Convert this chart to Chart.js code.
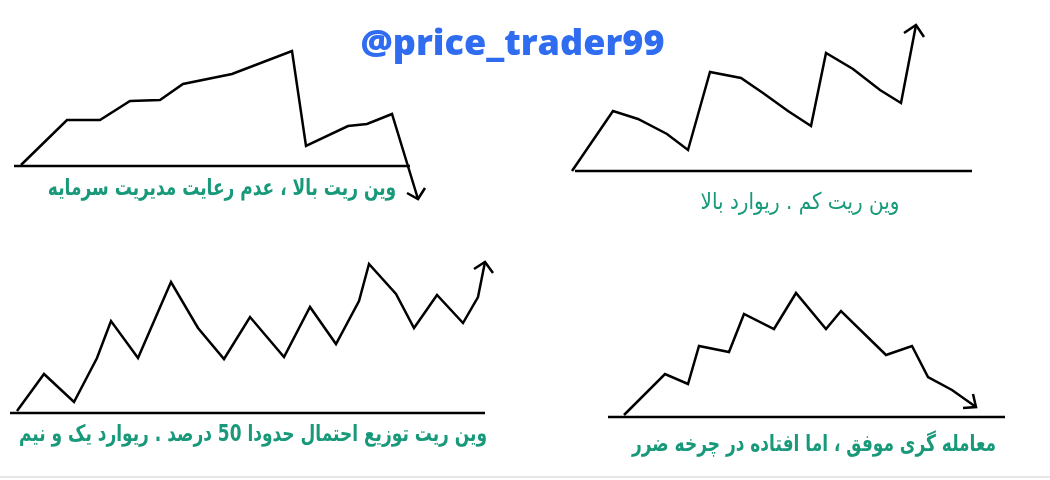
<html>
<head>
  <meta charset="utf-8">
  <title>price_trader99</title>
  <script src="https://cdn.jsdelivr.net/npm/chart.js"></script>
  <style>
    body { margin: 0; background: #fff; }
    #wrap { position: relative; width: 1050px; height: 480px; overflow: hidden; }
    #wrap::after { content: ''; position: absolute; left: 0; right: 0; bottom: 2px; height: 2px; background: #e6e6e6; }
    canvas { position: absolute; left: 0; top: 0; }
    .titulo { position: absolute; left: 0; width: 1025px; top: 22px; text-align: center;
      font-family: 'Open Sans', sans-serif; font-weight: 800; font-size: 36px; color: #2f6cf0; line-height: 40px; }
    .legenda { position: absolute; direction: rtl; white-space: nowrap; transform: translateX(-50%) scaleY(1.35);
      font-family: 'DejaVu Sans', sans-serif; font-weight: bold; font-size: 17px; color: #17997a; line-height: 22px; }
    .fina { font-weight: normal; font-size: 20px; transform: translateX(-50%) scaleY(1.15); }
  </style>
</head>
<body>
  <div id="wrap">
    <canvas id="grafico" width="1050" height="480"></canvas>
    <div class="titulo">@price_trader99</div>
    <div class="legenda" style="left:222px; top:176px">وین ریت بالا ، عدم رعایت مدیریت سرمایه</div>
    <div class="legenda fina" style="left:800px; top:190px">وین ریت کم . ریوارد بالا</div>
    <div class="legenda" style="left:253px; top:422px">وین ریت توزیع احتمال حدودا 50 درصد . ریوارد یک و نیم</div>
    <div class="legenda" style="left:814px; top:432px">معامله گری موفق ، اما افتاده در چرخه ضرر</div>
  </div>

  <script>
    // 1) وین ریت بالا، عدم رعایت مدیریت سرمایه
    const a_x = [21, 67, 100, 130, 160, 183, 232, 292, 306, 348, 367, 392, 418];
    const a_y = [165, 120, 120, 101, 100, 84, 74, 51, 146, 126, 124, 114, 199];
    const a_seta_x = [407, 418, 425];
    const a_seta_y = [193, 199, 188];
    const a_base_x = [14, 410];
    const a_base_y = [166, 166];

    // 2) وین ریت کم، ریوارد بالا
    const b_x = [572, 613, 638, 667, 688, 710, 741, 763, 788, 811, 826, 853, 880, 901, 916];
    const b_y = [171, 111, 119, 134, 150, 72, 78, 93, 111, 126, 53, 69, 90, 103, 25];
    const b_seta_x = [904, 916, 924];
    const b_seta_y = [33, 25, 37];
    const b_base_x = [575, 972];
    const b_base_y = [171, 171];

    // 3) وین ریت 50 درصد، ریوارد یک و نیم
    const c_x = [17, 44, 74, 97, 111, 138, 171, 198, 224, 250, 284, 310, 336, 359, 369, 396, 414, 437, 463, 478, 485];
    const c_y = [411, 374, 402, 358, 321, 358, 282, 328, 359, 317, 357, 307, 344, 301, 264, 294, 328, 295, 323, 297, 262];
    const c_seta_x = [474, 485, 493];
    const c_seta_y = [269, 262, 273];
    const c_base_x = [10, 485];
    const c_base_y = [413, 413];

    // 4) معامله گری موفق، اما افتاده در چرخه ضرر
    const d_x = [624, 665, 688, 699, 729, 744, 774, 796, 826, 841, 886, 912, 928, 952, 976];
    const d_y = [415, 374, 384, 346, 352, 314, 329, 293, 329, 311, 355, 346, 377, 390, 407];
    const d_seta_x = [963, 976, 973];
    const d_seta_y = [408, 407, 394];
    const d_base_x = [608, 1005];
    const d_base_y = [417, 417];

    function pontos(xs, ys) {
      return xs.map((x, i) => ({ x: x, y: ys[i] }));
    }

    function linha(xs, ys) {
      return {
        data: pontos(xs, ys),
        showLine: true,
        borderColor: '#000',
        borderWidth: 2.5,
        pointRadius: 0,
        tension: 0,
        fill: false
      };
    }

    const ctx = document.getElementById('grafico').getContext('2d');
    new Chart(ctx, {
      type: 'scatter',
      data: {
        datasets: [
          linha(a_x, a_y), linha(a_seta_x, a_seta_y), linha(a_base_x, a_base_y),
          linha(b_x, b_y), linha(b_seta_x, b_seta_y), linha(b_base_x, b_base_y),
          linha(c_x, c_y), linha(c_seta_x, c_seta_y), linha(c_base_x, c_base_y),
          linha(d_x, d_y), linha(d_seta_x, d_seta_y), linha(d_base_x, d_base_y)
        ]
      },
      options: {
        responsive: false,
        animation: false,
        devicePixelRatio: 1,
        layout: { padding: 0 },
        plugins: { legend: { display: false }, tooltip: { enabled: false } },
        scales: {
          x: { type: 'linear', min: 0, max: 1050, display: false },
          y: { type: 'linear', min: 0, max: 480, reverse: true, display: false }
        }
      }
    });
  </script>
</body>
</html>
